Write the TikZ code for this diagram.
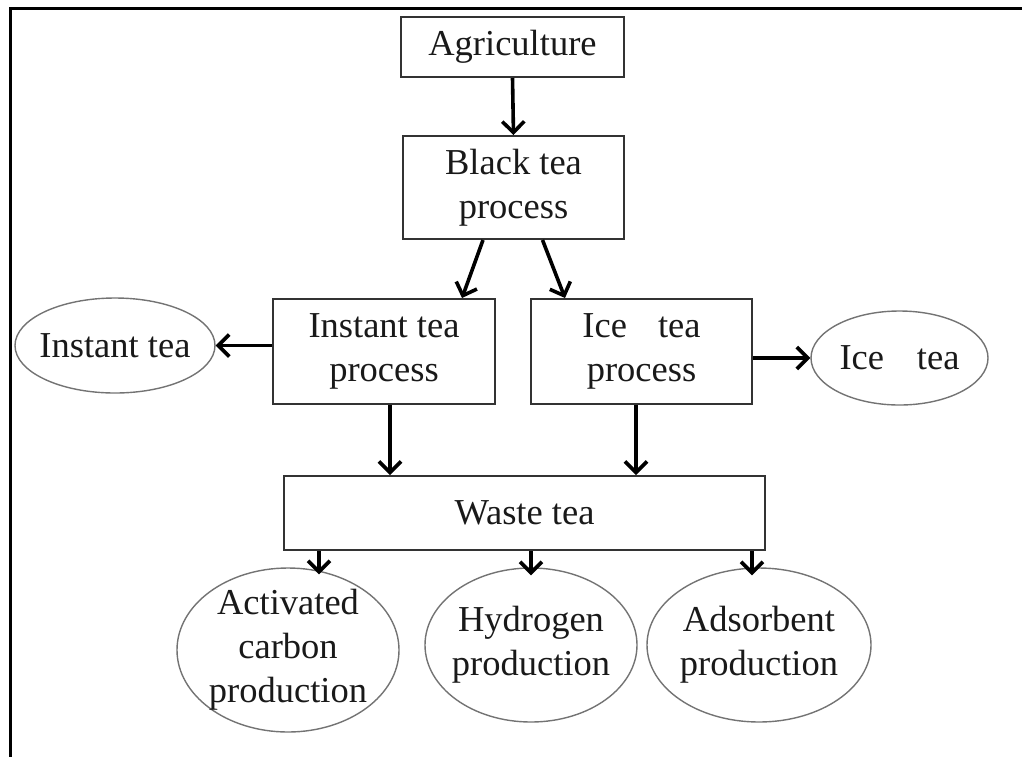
\documentclass[tikz,border=0pt]{standalone}
\usepackage{fontspec}
\setmainfont{Liberation Serif}
\usetikzlibrary{arrows.meta,shapes.geometric,calc}
\begin{document}
\begin{tikzpicture}[x=1pt,y=-1pt,
  lbl/.style={font=\fontsize{36.5}{44}\selectfont, align=center, inner sep=0pt, text=black!90},
  stepbox/.style={lbl, rectangle, draw=black!80, line width=2pt},
  product/.style={lbl, ellipse, inner sep=-30pt, draw=black!55, line width=1.4pt},
  arr/.style={line width=3.6pt, -{Straight Barb[length=11pt,width=22pt]}}]
\useasboundingbox (0,0) rectangle (1022,756);
\clip (0,0) rectangle (1022,756);
% outer frame, running past the right and bottom edges
\draw[line width=3pt] (10.5,8.5) rectangle (1040,775);

% process boxes
\node[stepbox, minimum width=223pt, minimum height=60pt]  (agri)  at (512.5,47)  {Agriculture};
\node[stepbox, minimum width=221pt, minimum height=103pt] (black) at (513.5,187.5) {Black tea\\process};
\node[stepbox, minimum width=222pt, minimum height=105pt] (itp)   at (384,351.5) {Instant tea\\process};
\node[stepbox, minimum width=221pt, minimum height=105pt] (icp)   at (641.5,351.5) {Ice\hspace{0.85em}tea\\process};
\node[stepbox, minimum width=481pt, minimum height=74pt]  (waste) at (524.5,513) {Waste tea};

% products
\node[product, minimum width=200pt, minimum height=95pt]  (it)  at (115,345.5) {Instant tea};
\node[product, minimum width=177pt, minimum height=94pt]  (ice) at (899.5,358) {Ice\hspace{0.9em}tea};
\node[product, minimum width=222pt, minimum height=164pt] (ac)  at (288,650) {Activated\\carbon\\production};
\node[product, minimum width=212pt, minimum height=154pt] (hy)  at (531,645) {Hydrogen\\production};
\node[product, minimum width=224pt, minimum height=154pt] (ad)  at (759,645) {Adsorbent\\production};

% connectors
\draw[arr] (agri.south) -- (black.north);
\draw[arr] ($(black.south)+(-30.5,0)$) -- ($(itp.north)+(78,0)$);
\draw[arr] ($(black.south)+(29,0)$) -- ($(icp.north)+(-76.5,0)$);
\draw[arr] (itp.west |- it.east) -- (it.east);
\draw[arr] (icp.east |- ice.west) -- (ice.west);
\draw[arr] ($(itp.south)+(6,0)$) coordinate (a1) -- (a1 |- waste.north);
\draw[arr] ($(icp.south)+(-5.5,0)$) coordinate (a2) -- (a2 |- waste.north);
\draw[arr] ($(waste.south)+(-205.5,0)$) coordinate (b1) -- ($(b1 |- ac.north)+(0,7)$);
\draw[arr] ($(waste.south)+(6.5,0)$) coordinate (b2) -- ($(b2 |- hy.north)+(0,8)$);
\draw[arr] ($(waste.south)+(227.5,0)$) coordinate (b3) -- ($(b3 |- ad.north)+(0,8)$);
\end{tikzpicture}
\end{document}
